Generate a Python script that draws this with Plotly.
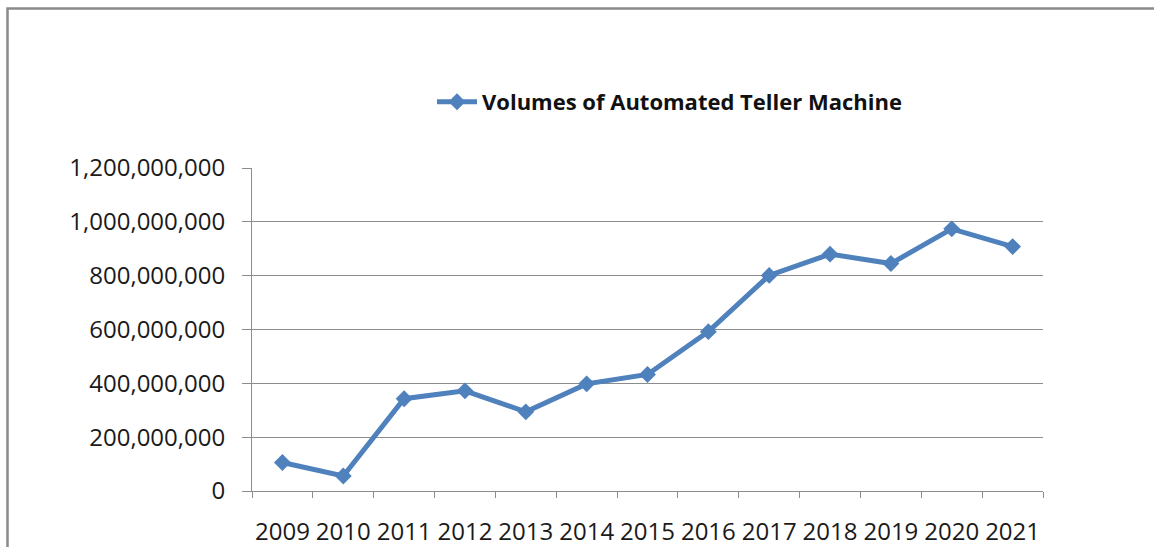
import plotly.graph_objects as go

years = ["2009", "2010", "2011", "2012", "2013", "2014", "2015",
         "2016", "2017", "2018", "2019", "2020", "2021"]
atm_volumes = [106_000_000, 56_000_000, 343_000_000, 372_000_000, 294_000_000,
               398_000_000, 433_000_000, 592_000_000, 801_000_000, 880_000_000,
               845_000_000, 974_000_000, 908_000_000]
series_name = "Volumes of Automated Teller Machine"
y_ticks = [0, 200_000_000, 400_000_000, 600_000_000, 800_000_000,
           1_000_000_000, 1_200_000_000]

W, H = 1154, 547
L, R, T, B = 252, 1043, 168, 491
pw, ph = R - L, B - T

def px_x(p):
    return (p - L) / pw

def px_y(p):
    return (B - p) / ph

blue = "#4F81BD"
gray = "#8C8C8C"
font = "Open Sans"

fig = go.Figure()
fig.add_trace(go.Scatter(
    x=years, y=atm_volumes, name=series_name, mode="lines+markers",
    line=dict(color=blue, width=5),
    marker=dict(symbol="diamond", size=13, color=blue),
    showlegend=True,
))

fig.update_layout(
    width=W, height=H,
    margin=dict(l=L, r=W - R, t=T, b=H - B, pad=0, autoexpand=False),
    paper_bgcolor="white", plot_bgcolor="white",
    font=dict(family=font, color="#1a1a1a"),
    showlegend=True,
    legend=dict(
        x=px_x(432), y=px_y(102), xanchor="left", yanchor="middle",
        orientation="h", font=dict(family=font, size=22, color="#111111", weight="bold"),
        bgcolor="rgba(0,0,0,0)", itemwidth=40,
    ),
    xaxis=dict(
        type="category", range=[-0.5, len(years) - 0.5],
        showline=True, linecolor=gray, linewidth=1,
        ticks="outside", ticklen=6, tickcolor=gray, tickson="boundaries",
        showgrid=False, tickangle=0, automargin=False,
        tickfont=dict(family=font, size=24, color="#1a1a1a"),
        ticklabelstandoff=19,
    ),
    yaxis=dict(
        range=[0, 1_200_000_000], tickvals=y_ticks, tickformat=",d",
        showline=True, linecolor=gray, linewidth=1,
        ticks="outside", ticklen=9, tickcolor=gray,
        showgrid=True, gridcolor=gray, gridwidth=1,
        zeroline=False, automargin=False,
        tickfont=dict(family=font, size=24, color="#1a1a1a"),
        ticklabelstandoff=12,
    ),
)

# outer chart-area border (Excel frame), clipped by the screenshot
fig.add_shape(
    type="path", xref="paper", yref="paper",
    path=f"M {px_x(7.5)} {px_y(560)} L {px_x(7.5)} {px_y(8.5)} L {px_x(1170)} {px_y(8.5)}",
    line=dict(color="#8a8a8a", width=2.5),
)

fig.write_html("out.html", config={"displayModeBar": False},
               post_script="document.body.style.margin='0';")
